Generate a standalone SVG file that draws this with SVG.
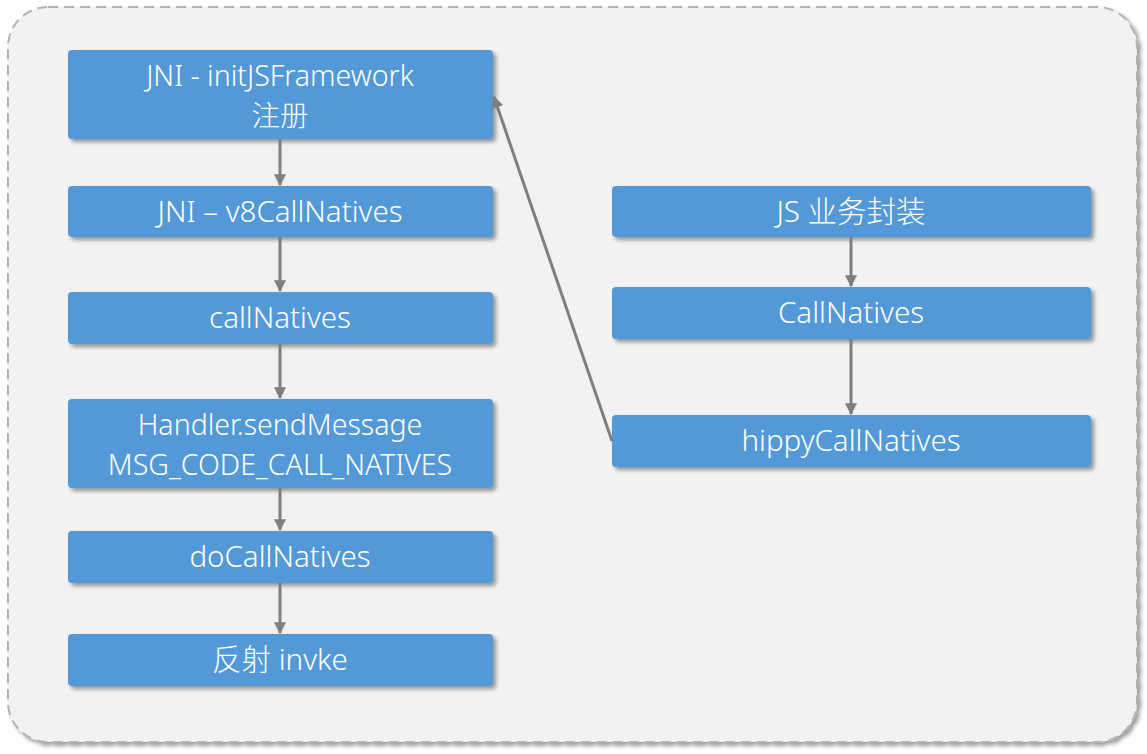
<svg xmlns="http://www.w3.org/2000/svg" width="1147" height="754" viewBox="0 0 1147 754">
<defs>
<filter id="sh" x="-10%" y="-20%" width="120%" height="150%">
<feGaussianBlur in="SourceAlpha" stdDeviation="2"/>
<feOffset dx="3" dy="3" result="b"/>
<feComponentTransfer><feFuncA type="linear" slope="0.4"/></feComponentTransfer>
<feMerge><feMergeNode/><feMergeNode in="SourceGraphic"/></feMerge>
</filter>
<marker id="ah" viewBox="0 0 10 10" refX="9" refY="5" markerWidth="4" markerHeight="4" markerUnits="strokeWidth" orient="auto">
<path d="M0,0 L10,5 L0,10 z" fill="#7f7f7f"/>
</marker>
</defs>
<style>
.box{fill:#5299d8;filter:url(#sh);}
.t{fill:#ffffff;font-family:"Noto Sans","Noto Sans CJK SC",sans-serif;font-weight:300;font-size:29.5px;text-anchor:middle;}
.t2{font-size:28.5px;}
.c{stroke:#7f7f7f;stroke-width:3;fill:none;marker-end:url(#ah);}
</style>
<g id="container">
<rect x="8" y="7" width="1129" height="735" rx="40" fill="#f2f2f2" stroke="#b3b3b3" stroke-width="2" stroke-dasharray="10 6" filter="url(#sh)"/>
</g>
<g id="n1"><rect class="box" x="68" y="50" width="425" height="89" rx="4"/><text class="t t2"><tspan x="280" y="86">JNI - initJSFramework</tspan><tspan x="280" y="126">注册</tspan></text></g>
<g id="n2"><rect class="box" x="68" y="186" width="425" height="51" rx="4"/><text class="t" x="280" y="222">JNI – v8CallNatives</text></g>
<g id="n3"><rect class="box" x="68" y="292" width="425" height="52" rx="4"/><text class="t" x="280" y="328">callNatives</text></g>
<g id="n4"><rect class="box" x="68" y="399" width="425" height="89" rx="4"/><text class="t t2"><tspan x="280" y="435">Handler.sendMessage</tspan><tspan x="280" y="475">MSG_CODE_CALL_NATIVES</tspan></text></g>
<g id="n5"><rect class="box" x="68" y="531" width="425" height="52" rx="4"/><text class="t" x="280" y="567">doCallNatives</text></g>
<g id="n6"><rect class="box" x="68" y="634" width="425" height="52" rx="4"/><text class="t" x="280" y="670">反射 invke</text></g>
<g id="r1"><rect class="box" x="612" y="186" width="479" height="51" rx="4"/><text class="t" x="851" y="222">JS 业务封装</text></g>
<g id="r2"><rect class="box" x="612" y="287" width="479" height="52" rx="4"/><text class="t" x="851" y="323">CallNatives</text></g>
<g id="r3"><rect class="box" x="612" y="415" width="479" height="52" rx="4"/><text class="t" x="851" y="451">hippyCallNatives</text></g>
<g id="connectors">
<line class="c" x1="280" y1="139" x2="280" y2="185"/>
<line class="c" x1="280" y1="237" x2="280" y2="291"/>
<line class="c" x1="280" y1="344" x2="280" y2="398"/>
<line class="c" x1="280" y1="488" x2="280" y2="530"/>
<line class="c" x1="280" y1="583" x2="280" y2="633"/>
<line class="c" x1="851" y1="237" x2="851" y2="286"/>
<line class="c" x1="851" y1="339" x2="851" y2="414"/>
<line class="c" x1="612" y1="441" x2="494" y2="97"/>
</g>
</svg>
